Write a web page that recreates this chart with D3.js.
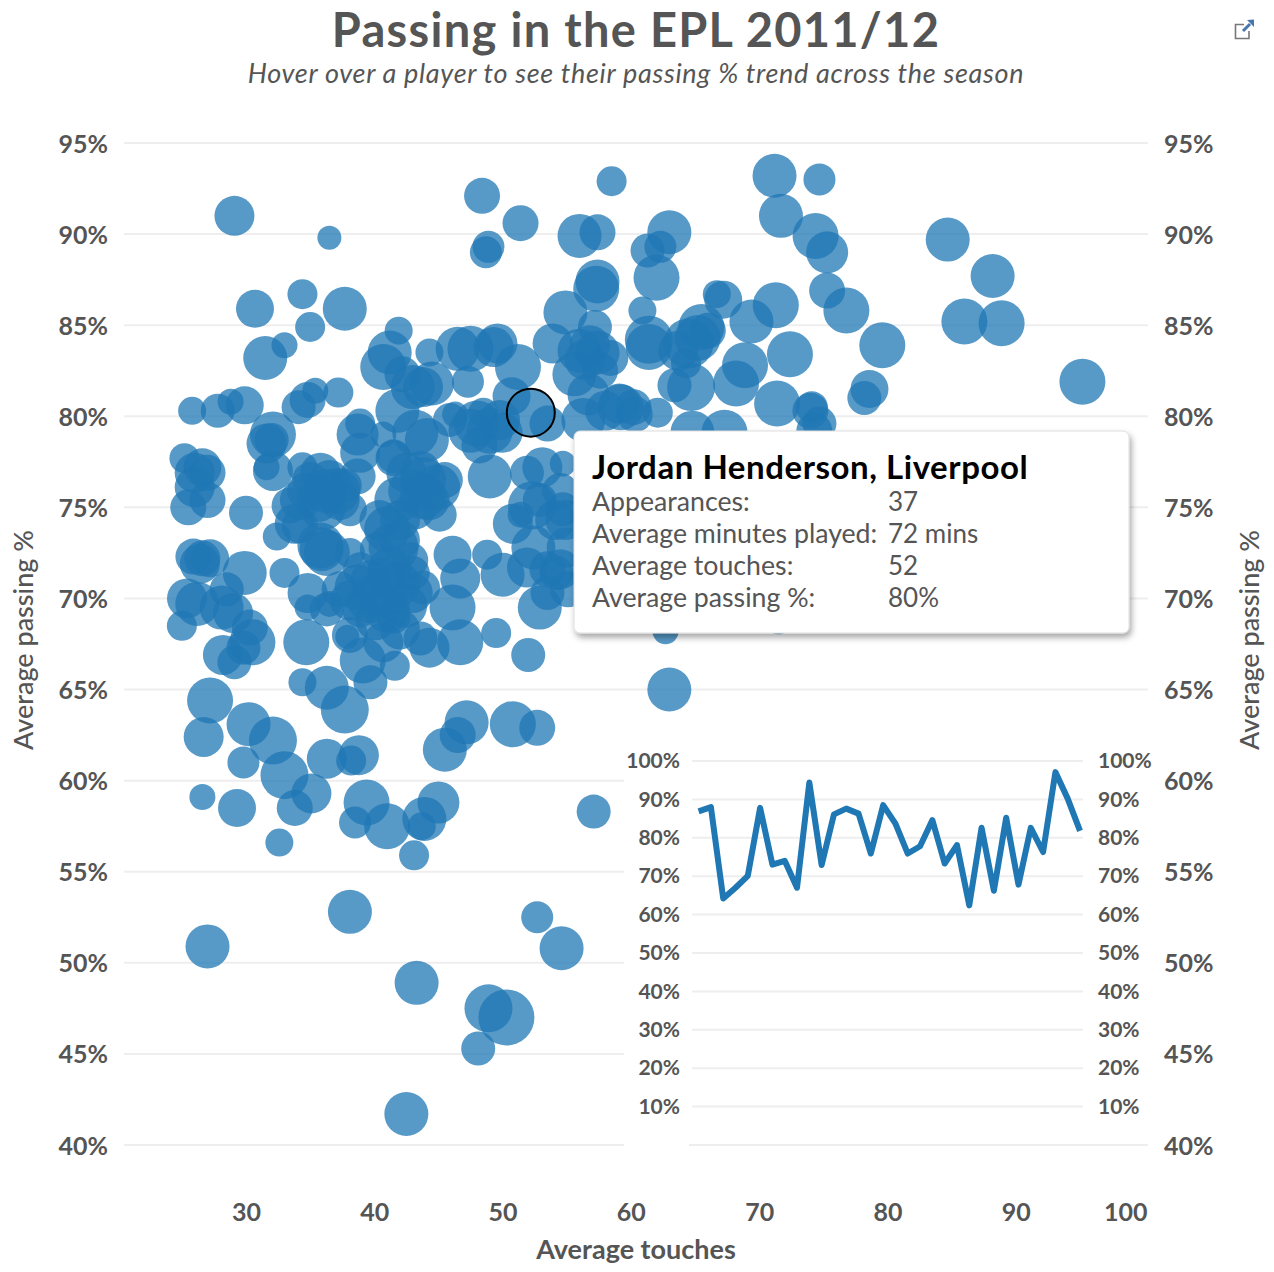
<!DOCTYPE html>
<html>
<head>
<meta charset="utf-8">
<script src="https://cdn.jsdelivr.net/npm/d3@7.9.0/dist/d3.min.js"></script>
<style>
  body { margin: 0; background: #fff; }
  text { font-family: Lato, "Open Sans", sans-serif; fill: #555; }
  .tick line, .domain { display: none; }
  .grid { stroke: #eee; stroke-width: 2; }
  .main-tick text { font-size: 25px; font-weight: 700; }
  .inset-tick text { font-size: 21px; font-weight: 700; }
</style>
</head>
<body>
<svg id="chart" width="1274" height="1272"></svg>
<script>
const touches = [
  29.1,36.5,48.4,51.4,58.5,56.0,57.4,48.9,48.7,57.4,
  57.3,54.9,57.2,30.7,34.4,37.7,35.0,33.0,31.5,41.9,
  41.2,40.7,44.3,46.5,47.5,49.6,49.3,51.2,47.3,42.2,
  43.0,44.5,43.8,50.7,52.2,53.5,53.9,56.0,57.4,58.4,
  55.6,56.7,59.2,56.3,25.8,27.8,28.8,29.9,37.2,35.4,
  34.8,34.1,32.1,31.6,32.0,38.9,38.7,40.7,41.8,43.2,
  44.1,46.3,45.9,48.0,48.5,49.0,50.0,38.9,41.5,25.2,
  26.6,26.0,27.0,26.0,27.0,25.5,30.0,32.1,31.6,34.4,
  35.8,34.2,33.8,32.4,37.1,36.0,38.1,38.7,35.8,35.9,
  36.3,43.8,43.8,44.9,42.5,41.8,45.1,41.0,41.5,40.2,
  41.5,49.0,53.1,51.9,54.7,52.3,52.9,50.8,51.4,54.7,
  52.4,51.9,53.5,55.0,52.9,53.5,54.2,50.0,48.8,46.1,
  46.7,46.1,46.7,49.5,52.0,33.0,26.6,25.9,27.2,26.4,
  29.9,25.4,26.2,28.1,29.0,28.5,25.0,30.3,30.5,28.2,
  29.1,29.8,34.8,34.7,36.3,34.8,38.1,37.9,39.1,41.6,
  39.7,34.4,36.3,37.7,27.2,26.7,30.2,32.1,47.2,46.5,
  45.5,50.8,52.7,29.8,33.0,35.1,33.8,36.3,38.2,38.8,
  26.6,29.3,32.6,39.4,38.5,41.0,45.0,43.9,43.7,43.1,
  57.1,38.1,52.7,54.6,27.0,43.3,48.9,50.3,48.1,42.5,
  63.0,38.7,40.7,41.8,39.7,41.0,43.0,42.0,43.6,44.3,
  41.5,40.7,38.9,43.0,43.8,36.5,38.1,63.0,61.3,62.3,
  62.0,60.9,61.4,61.4,65.5,67.2,66.7,69.4,71.3,72.4,
  68.9,68.2,64.5,65.2,63.7,66.0,64.3,64.7,63.4,71.4,
  74.0,74.1,74.7,64.8,67.3,62.1,60.2,59.1,78.6,78.2,
  79.6,76.8,75.3,75.3,74.4,71.7,74.7,71.2,84.7,88.2,
  86.0,88.9,95.2,60.7,62.3,62.7,71.5,54.1,74.3,
  35.0,36.2,37.3,35.6,36.5,34.6,37.7,43.6,42.8,44.3,
  45.5,43.2,42.0,42.0,40.4,41.2,42.8,39.7,40.8,42.4,
  40.1,38.1,37.3,38.9,47.5,49.8,48.2,56.8,56.4,57.6,
  58.0,60.3,54.9,54.5,54.5,55.1,33.4,34.2
];
const passing = [
  91.0,89.8,92.1,90.6,92.9,89.9,90.1,89.3,89.0,87.4,
  87.0,85.7,84.9,85.9,86.7,85.9,84.9,83.9,83.2,84.7,
  83.5,82.7,83.5,83.7,83.7,84.0,83.8,82.7,81.9,82.3,
  81.6,81.8,81.6,81.1,80.2,79.6,84.0,83.6,83.5,83.2,
  82.3,81.2,80.5,79.8,80.3,80.3,80.8,80.6,81.3,81.4,
  80.9,80.5,79.0,78.5,78.7,79.6,79.0,79.0,80.3,79.1,
  78.7,80.1,79.8,79.6,80.2,79.2,79.1,78.0,77.7,77.7,
  77.2,76.9,76.9,76.1,75.4,75.0,74.7,77.0,77.2,77.2,
  76.9,75.4,74.1,73.4,75.9,75.0,74.9,76.7,72.9,72.7,
  72.5,76.5,75.6,76.1,76.9,75.4,74.6,73.8,72.8,72.7,
  77.8,76.7,77.2,76.9,77.4,75.1,75.4,74.1,74.6,74.9,
  72.8,71.7,71.6,72.8,69.5,70.3,71.4,71.3,72.4,72.4,
  71.1,69.5,67.6,68.1,66.9,71.4,72.2,72.3,72.2,71.9,
  71.4,70.0,69.7,69.5,69.2,70.5,68.5,68.4,67.6,66.9,
  66.5,67.3,70.3,67.6,69.4,69.5,68.0,67.9,66.6,66.3,
  65.4,65.4,65.1,63.9,64.4,62.4,63.1,62.2,63.2,62.5,
  61.7,63.1,62.9,61.0,60.3,59.3,58.5,61.2,61.1,61.4,
  59.1,58.5,56.6,58.8,57.7,57.5,58.8,57.9,57.5,55.9,
  58.3,52.8,52.5,50.8,50.9,48.9,47.5,47.0,45.3,41.7,
  65.0,70.6,70.3,70.8,69.9,69.4,70.3,68.3,67.8,67.3,
  69.0,67.6,71.6,71.4,70.6,69.7,72.5,90.1,89.1,89.3,
  87.6,85.8,84.2,83.8,84.9,86.4,86.7,85.2,86.1,83.4,
  82.8,81.8,84.0,84.3,83.6,84.7,82.9,81.6,81.7,80.7,
  80.3,80.5,79.6,79.1,79.1,80.2,80.5,80.7,81.5,81.0,
  83.9,85.8,86.9,89.0,89.9,91.0,93.0,93.2,89.7,87.7,
  85.2,85.1,81.9,69.4,69.5,68.2,68.8,74.3,79.2,
  76.5,75.9,75.4,75.4,76.5,75.9,76.2,77.0,75.9,75.4,
  76.5,74.9,74.3,73.2,74.3,71.6,72.1,71.0,71.3,69.6,
  68.8,69.9,70.5,69.4,79.2,79.8,78.4,83.9,83.1,82.5,
  80.3,80.1,74.3,75.9,71.6,70.5,75.1,74.0
];
const minutes = [
  60,36,54,54,45,66,54,48,48,66,
  69,66,51,57,45,66,45,39,66,42,
  66,69,42,66,69,60,60,69,48,54,
  66,66,60,57,72,54,60,66,66,54,
  66,63,69,66,42,51,39,57,45,39,
  54,51,69,60,51,45,63,39,66,69,
  66,39,51,69,45,69,60,60,54,45,
  57,60,54,60,54,54,51,60,39,45,
  60,60,60,42,69,69,51,54,69,66,
  69,69,69,69,60,69,51,69,75,51,
  51,66,60,51,39,72,51,60,39,51,
  66,60,54,60,66,51,51,66,45,57,
  60,69,69,45,51,45,54,54,57,60,
  66,60,66,66,60,51,45,54,69,60,
  51,51,60,69,51,39,54,36,69,45,
  51,42,66,72,69,60,66,72,66,54,
  66,69,54,48,72,60,54,60,45,60,
  39,57,42,69,48,69,63,66,42,45,
  51,66,48,66,66,66,72,84,51,66,
  66,69,75,69,69,69,60,60,51,60,
  51,60,51,51,51,39,45,66,51,48,
  69,42,72,69,69,57,42,66,69,69,
  69,69,75,69,60,54,45,72,51,69,
  54,48,51,66,69,45,54,60,57,51,
  69,69,54,63,69,66,48,66,66,66,
  69,69,69,66,66,39,42,60,54,
  54,66,60,66,60,54,51,60,66,60,
  54,60,60,60,60,66,54,60,54,66,
  60,60,54,54,66,60,54,60,60,54,
  60,54,60,54,60,54,54,54
];
const highlighted = 34;  // Jordan Henderson

// his passing % match by match
const trend = [
  86.9,88.0,64.2,67.0,70.1,87.8,73.0,74.0,67.0,94.4,
  72.9,86.1,87.6,86.3,75.9,88.5,83.7,75.9,77.8,84.6,
  73.3,78.1,62.4,82.6,66.2,85.2,67.8,82.6,76.3,97.1,
  90.2,81.8
];

const xTicks = [30, 40, 50, 60, 70, 80, 90, 100];
const yTicks = [40, 45, 50, 55, 60, 65, 70, 75, 80, 85, 90, 95];
const trendTicks = [10, 20, 30, 40, 50, 60, 70, 80, 90, 100];
const tooltipLabels = ['Appearances:', 'Average minutes played:', 'Average touches:', 'Average passing %:'];
const tooltipValues = ['37', '72 mins', '52', '80%'];

const svg = d3.select('#chart');
const blue = '#1f77b4';

const x = d3.scaleLinear().domain([30, 100]).range([246, 1144]);
const y = d3.scaleLinear().domain([40, 95]).range([1145, 143]);
const r = d3.scaleLinear().domain([0, 90]).range([0, 30]);

// title
svg.append('text').attr('x', 636).attr('y', 47).attr('text-anchor', 'middle')
  .style('font-size', '47px').style('font-weight', 700).style('letter-spacing', '1.3px')
  .text('Passing in the EPL 2011/12');
svg.append('text').attr('x', 636).attr('y', 83).attr('text-anchor', 'middle')
  .style('font-size', '27px').style('font-style', 'italic').style('letter-spacing', '0.7px')
  .text('Hover over a player to see their passing % trend across the season');

// export icon
const icon = svg.append('g').attr('fill', 'none');
icon.append('path').attr('d', 'M1244 24.5H1235.5V38.5H1249V31').attr('stroke', '#777').attr('stroke-width', 1.6);
icon.append('path').attr('d', 'M1243 31L1250 24').attr('stroke', '#4a76b0').attr('stroke-width', 3);
icon.append('path').attr('d', 'M1254 19.5V27L1247 20Z').attr('fill', '#4a76b0');

// main grid + axes
svg.append('g').selectAll('line').data(yTicks).join('line')
  .attr('class', 'grid')
  .attr('x1', 124).attr('x2', 1148)
  .attr('y1', d => y(d)).attr('y2', d => y(d));

const leftAxis = d3.axisLeft(y).tickValues(yTicks).tickFormat(d => d + '%').tickSize(0).tickPadding(0);
svg.append('g').attr('class', 'main-tick').attr('transform', 'translate(108,1)').call(leftAxis);
const rightAxis = d3.axisRight(y).tickValues(yTicks).tickFormat(d => d + '%').tickSize(0).tickPadding(0);
svg.append('g').attr('class', 'main-tick').attr('transform', 'translate(1164,1)').call(rightAxis);

const bottomAxis = d3.axisBottom(x).tickValues(xTicks).tickSize(0).tickPadding(0);
const xAxis = svg.append('g').attr('class', 'main-tick').attr('transform', 'translate(0,1203)').call(bottomAxis);
xAxis.selectAll('text').filter(d => d === 100).attr('text-anchor', 'end').attr('x', 3);

svg.append('text').attr('x', 636).attr('y', 1259).attr('text-anchor', 'middle')
  .style('font-size', '27px').style('font-weight', 700).text('Average touches');
svg.append('text').attr('transform', 'translate(33,640) rotate(-90)').attr('text-anchor', 'middle')
  .style('font-size', '27px').style('font-weight', 500).text('Average passing %');
svg.append('text').attr('transform', 'translate(1259,640) rotate(-90)').attr('text-anchor', 'middle')
  .style('font-size', '27px').style('font-weight', 500).text('Average passing %');

// players
svg.append('g').selectAll('circle').data(d3.range(touches.length)).join('circle')
  .attr('cx', i => x(touches[i]))
  .attr('cy', i => y(passing[i]))
  .attr('r', i => r(minutes[i]))
  .attr('fill', blue)
  .attr('fill-opacity', 0.75);

svg.append('circle')
  .attr('cx', x(touches[highlighted]))
  .attr('cy', y(passing[highlighted]))
  .attr('r', r(minutes[highlighted]))
  .attr('fill', 'none')
  .attr('stroke', '#000')
  .attr('stroke-width', 2);

// inset trend chart sits on a white panel over the main grid
svg.append('rect').attr('x', 624).attr('y', 745).attr('width', 526).attr('height', 410).attr('fill', '#fff');

const trendX = d3.scaleLinear().domain([0, trend.length - 1]).range([698.6, 1080]);
const trendY = d3.scaleLinear().domain([0, 100]).range([1145, 761]);

svg.append('line').attr('class', 'grid')
  .attr('x1', 689).attr('x2', 1148).attr('y1', trendY(0)).attr('y2', trendY(0));
svg.append('g').selectAll('line').data(trendTicks).join('line')
  .attr('class', 'grid')
  .attr('x1', 692).attr('x2', 1083)
  .attr('y1', d => trendY(d)).attr('y2', d => trendY(d));

svg.append('g').attr('class', 'inset-tick').attr('transform', 'translate(680,0)')
  .call(d3.axisLeft(trendY).tickValues(trendTicks).tickFormat(d => d + '%').tickSize(0).tickPadding(0));
svg.append('g').attr('class', 'inset-tick').attr('transform', 'translate(1098,0)')
  .call(d3.axisRight(trendY).tickValues(trendTicks).tickFormat(d => d + '%').tickSize(0).tickPadding(0));

svg.append('path')
  .datum(trend)
  .attr('fill', 'none')
  .attr('stroke', blue)
  .attr('stroke-width', 6)
  .attr('stroke-linejoin', 'round')
  .attr('d', d3.line().x((d, i) => trendX(i)).y(d => trendY(d)));

// tooltip
const defs = svg.append('defs');
const shadow = defs.append('filter').attr('id', 'shadow').attr('x', '-5%').attr('y', '-5%').attr('width', '110%').attr('height', '115%');
shadow.append('feDropShadow').attr('dx', 2).attr('dy', 4).attr('stdDeviation', 3).attr('flood-color', '#000').attr('flood-opacity', 0.35);

const tip = svg.append('g').attr('transform', 'translate(574,431)');
tip.append('rect').attr('width', 555).attr('height', 202).attr('rx', 6)
  .attr('fill', '#fff').attr('stroke', '#ddd').attr('filter', 'url(#shadow)');
tip.append('text').attr('x', 18).attr('y', 48)
  .style('font-size', '33px').style('font-weight', 700).style('fill', '#000').style('letter-spacing', '0.55px')
  .text('Jordan Henderson, Liverpool');
tip.selectAll('.label').data(tooltipLabels).join('text')
  .attr('class', 'label').attr('x', 18).attr('y', (d, i) => 80 + i * 32)
  .style('font-size', '26.7px').text(d => d);
tip.selectAll('.value').data(tooltipValues).join('text')
  .attr('class', 'value').attr('x', 314).attr('y', (d, i) => 80 + i * 32)
  .style('font-size', '26px').text(d => d);
</script>
</body>
</html>
